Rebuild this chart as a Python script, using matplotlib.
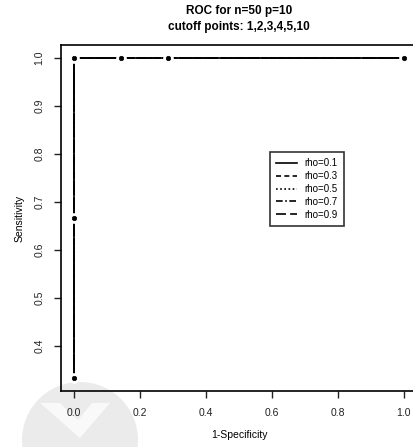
import matplotlib.pyplot as plt
import matplotlib.patches as mpatches

plt.rcParams['font.family'] = ['Liberation Sans', 'DejaVu Sans']

# ROC points (same for every rho, curves overlap)
fpr = [0.0, 0.0, 0.0, 0.143, 0.286, 1.0]
tpr = [0.333, 0.667, 1.0, 1.0, 1.0, 1.0]
rhos = ["rho=0.1", "rho=0.3", "rho=0.5", "rho=0.7", "rho=0.9"]
styles = ["-", (0, (3, 2)), (0, (1, 1.5)), (0, (4, 1.5, 1, 1.5)), (0, (6, 2.5))]

fig = plt.figure(figsize=(4.14, 4.47), dpi=100)

# faint watermark behind everything
wm = fig.add_axes([0, 0, 1, 1], zorder=-5)
wm.set_xlim(0, 414)
wm.set_ylim(447, 0)
wm.axis("off")
wm.add_patch(mpatches.Circle((80, 440), 58, color="#ebebeb", lw=0))
wm.add_patch(mpatches.Polygon([(40, 403), (110, 403), (80, 438)], color="#f9f9f9", lw=0))
wm.add_patch(mpatches.Polygon([(60, 403), (92, 403), (78, 420)], color="#ebebeb", lw=0))

ax = fig.add_axes([61 / 414, 1 - 391 / 447, 356 / 414, 346 / 447])
ax.patch.set_alpha(0)

for lab, ls in zip(rhos, styles):
    ax.plot(fpr, tpr, color="black", lw=1.2, linestyle=ls, label=lab)
# type="b" look: points with a small gap in the line
ax.plot(fpr, tpr, "o", color="black", ms=3.2, mec="white", mew=4.5, zorder=3)
ax.plot(fpr, tpr, "o", color="black", ms=3.2, mec="black", mew=0.5, zorder=4)

ax.set_xlim(-0.04, 1.04)
ax.set_ylim(0.333 - 0.0267, 1.0267)
ax.set_xticks([0.0, 0.2, 0.4, 0.6, 0.8, 1.0])
ax.set_yticks([0.4, 0.5, 0.6, 0.7, 0.8, 0.9, 1.0])
ax.set_yticklabels(["0.4", "0.5", "0.6", "0.7", "0.8", "0.9", "1.0"], rotation=90, va="center")
ax.tick_params(direction="out", length=5, width=1, labelsize=7.5, colors="#222222", pad=7)
for s in ax.spines.values():
    s.set_linewidth(1.2)

ax.set_xlabel("1-Specificity", fontsize=7.5, labelpad=9)
ax.set_ylabel("Sensitivity", fontsize=7.5, labelpad=7)

fig.text(239 / 414, 1 - 11 / 447, "ROC for n=50 p=10", ha="center", va="center",
         fontsize=8.5, fontweight="bold")
fig.text(239 / 414, 1 - 27 / 447, "cutoff points: 1,2,3,4,5,10", ha="center", va="center",
         fontsize=8.5, fontweight="bold")

leg = ax.legend(loc="center", bbox_to_anchor=(0.706, 0.727), bbox_transform=ax.transData,
                fontsize=7, frameon=True, fancybox=False, edgecolor="black",
                handlelength=2.2, handletextpad=0.8, labelspacing=0.3, borderpad=0.6)
leg.get_frame().set_linewidth(1.2)

fig.savefig("out.png", dpi=100)
